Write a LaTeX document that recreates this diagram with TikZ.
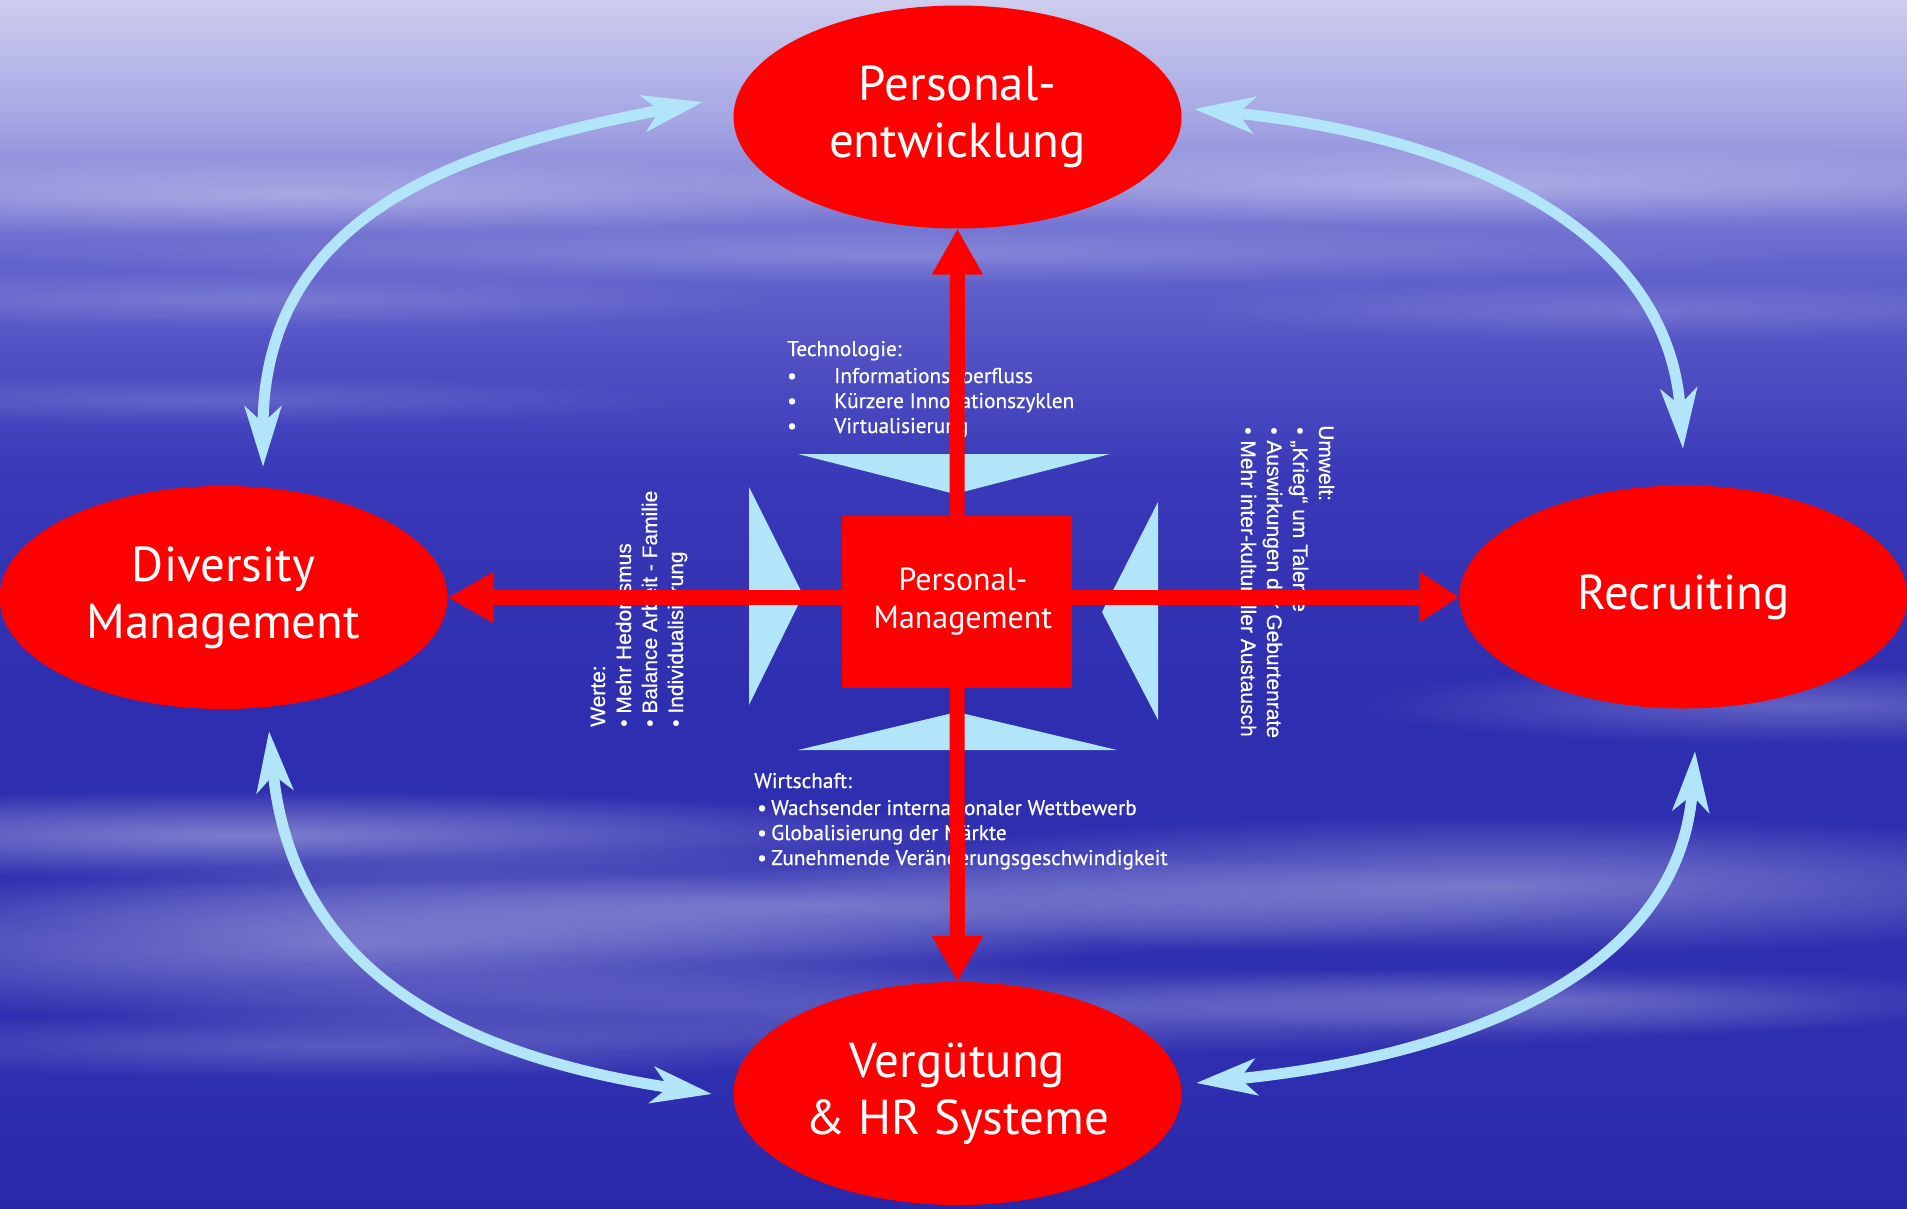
\documentclass[tikz,border=0pt]{standalone}
\usepackage{fontspec}
\setmainfont{PT Sans}
\newfontfamily\listfont[FakeBold=0.6]{PT Sans}
\newfontfamily\arialf[FakeBold=0.5]{Liberation Sans}
\usetikzlibrary{shapes.geometric,arrows.meta,fadings,calc}
\definecolor{bgblue}{RGB}{46,46,176}
\definecolor{bgA}{RGB}{205,205,238}
\definecolor{bgB}{RGB}{165,165,228}
\definecolor{bgC}{RGB}{100,100,205}
\definecolor{bgD}{RGB}{56,56,184}
\definecolor{bgE}{RGB}{40,40,168}
\definecolor{lblue}{RGB}{178,228,250}
\definecolor{hrred}{RGB}{255,0,0}
\tikzfading[name=softell, inner color=transparent!0, outer color=transparent!100]
\pgfdeclarelayer{bg}
\pgfdeclarelayer{mid}
\pgfsetlayers{bg,mid,main}
\begin{document}
\begin{tikzpicture}[x=1pt,y=-1pt,
  ell/.style={ellipse, fill=hrred, text=white, inner sep=0pt, minimum width=448pt, minimum height=223pt, align=center, font=\fontsize{49}{57}\selectfont},
  tri/.style={fill=lblue},
  redarr/.style={draw=hrred, line width=15pt, -{Triangle[length=46pt,width=48pt]}},
  cyc/.style={draw=lblue, line width=11pt, {Stealth[length=60pt,width=36pt,inset=16pt]}-{Stealth[length=60pt,width=36pt,inset=16pt]}},
  lst/.style={text=white, inner sep=0pt, anchor=base west, font=\listfont\fontsize{21.3}{25}\selectfont},
  vlst/.style={text=white, inner sep=0pt, anchor=base west, font=\arialf\fontsize{21}{25}\selectfont},
  streak/.style={fill=white, path fading=softell}
]
\useasboundingbox (0,0) rectangle (1907,1208);

% ---------- main nodes ----------
\node[ell] (pe) at (957.5,117) {Personal-\\entwicklung};
\node[ell] (dm) at (223.5,597.5) {Diversity\\Management};
\node[ell] (rec) at (1683.5,597) {Recruiting};
\node[ell] (vg) at (957.5,1093.5) {Vergütung\\\& HR Systeme};
\node[fill=hrred, minimum width=230pt, minimum height=172pt, inner sep=0pt, text=white, align=center, font=\fontsize{32}{38}\selectfont] (pm) at (957,602) {\hspace*{12pt}Personal-\\\hspace*{12pt}Management};

% ---------- background ----------
\begin{pgfonlayer}{bg}
\fill[bgblue] (0,0) rectangle (1907,1208);
\shade[top color=bgA, bottom color=bgB] (0,0) rectangle (1907,121);
\shade[top color=bgB, bottom color=bgC] (0,120) rectangle (1907,261);
\shade[top color=bgC, bottom color=bgD] (0,260) rectangle (1907,481);
\shade[top color=bgD, bottom color=bgblue] (0,480) rectangle (1907,700);
\shade[top color=bgblue, bottom color=bgE] (0,1080) rectangle (1907,1208);
% soft cloud streaks
\fill[streak, fill opacity=0.30] (300,195) ellipse (700 and 40);
\fill[streak, fill opacity=0.30] (1450,185) ellipse (800 and 40);
\fill[streak, fill opacity=0.20] (900,255) ellipse (900 and 30);
\fill[streak, fill opacity=0.18] (250,300) ellipse (550 and 30);
\fill[streak, fill opacity=0.15] (200,400) ellipse (500 and 25);
\fill[streak, fill opacity=0.15] (1650,310) ellipse (500 and 30);
\fill[streak, fill opacity=0.38] (250,835) ellipse (750 and 45);
\fill[streak, fill opacity=0.35] (350,945) ellipse (750 and 80);
\fill[streak, fill opacity=0.30] (800,905) ellipse (800 and 55);
\fill[streak, fill opacity=0.35] (1500,885) ellipse (750 and 70);
\fill[streak, fill opacity=0.25] (1800,705) ellipse (450 and 40);
\fill[streak, fill opacity=0.25] (1000,1010) ellipse (900 and 45);
\fill[streak, fill opacity=0.22] (1550,1000) ellipse (500 and 35);
\fill[streak, fill opacity=0.22] (350,1045) ellipse (600 and 35);

% ---------- light blue wedges ----------
\fill[tri] (798,454) -- (1110,454) -- (955,494) -- cycle;
\fill[tri] (798,750) -- (1117,750) -- (957,712) -- cycle;
\fill[tri] (749,487) -- (749,705) -- (803,595) -- cycle;
\fill[tri] (1158,502) -- (1158,720) -- (1102,612) -- cycle;

% ---------- influence lists ----------
\node[lst] (tech0) at (787,356) {Technologie:};
\node[lst] (tech1) at (787,383) {\makebox[47pt][l]{•}Informationsüberfluss};
\node[lst] (tech2) at (787,408) {\makebox[47pt][l]{•}Kürzere Innovationszyklen};
\node[lst] (tech3) at (787,433) {\makebox[47pt][l]{•}Virtualisierung};

\node[lst] (wi0) at (754,788) {Wirtschaft:};
\node[lst] (wi1) at (757,815) {\makebox[14pt][l]{•}Wachsender internationaler Wettbewerb};
\node[lst] (wi2) at (757,840) {\makebox[14pt][l]{•}Globalisierung der Märkte};
\node[lst] (wi3) at (757,865) {\makebox[14pt][l]{•}Zunehmende Veränderungsgeschwindigkeit};

\node[vlst, rotate=90] (we0) at (605,727) {Werte:};
\node[vlst, rotate=90] (we1) at (631,727) {• Mehr Hedonismus};
\node[vlst, rotate=90] (we2) at (657,727) {• Balance Arbeit - Familie};
\node[vlst, rotate=90] (we3) at (683,727) {• Individualisierung};

\node[vlst, rotate=-90] (um0) at (1319,425) {Umwelt:};
\node[vlst, rotate=-90] (um1) at (1293,427) {• „Krieg“ um Talente};
\node[vlst, rotate=-90] (um2) at (1267,427) {• Auswirkungen der Geburtenrate};
\node[vlst, rotate=-90] (um3) at (1241,427) {• Mehr inter-kultureller Austausch};
\end{pgfonlayer}

% ---------- red arrows ----------
\begin{pgfonlayer}{mid}
\draw[redarr] (pm.north) -- (pe.south);
\draw[redarr] (pm.south) -- (vg.north);
\draw[redarr] (pm.west |- dm.east) -- (dm.east);
\draw[redarr, -{Triangle[length=40pt,width=48pt]}] (pm.east |- rec.west) -- (rec.west);
\end{pgfonlayer}

% ---------- light blue cycle arrows ----------
\coordinate (c1a) at (263,467);  \coordinate (c1b) at (703,102);
\coordinate (c2a) at (1194,109); \coordinate (c2b) at (1683,449);
\coordinate (c3a) at (269,731);  \coordinate (c3b) at (712,1094);
\coordinate (c4a) at (1196,1083); \coordinate (c4b) at (1695,751);
\draw[cyc] (c1a) .. controls (263,207) and (473,146) .. (c1b);
\draw[cyc] (c2a) .. controls (1444,134) and (1667,219) .. (c2b);
\draw[cyc] (c3a) .. controls (292,961) and (442,1053) .. (c3b);
\draw[cyc] (c4a) .. controls (1446,1058) and (1679,981) .. (c4b);
\end{tikzpicture}
\end{document}
